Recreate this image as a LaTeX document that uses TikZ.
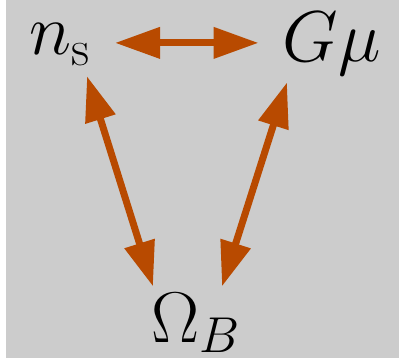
\RequirePackage{fix-cm}
\documentclass[tikz,border=0pt]{standalone}
\usepackage{xcolor}
\usetikzlibrary{arrows.meta}
\definecolor{linkcol}{HTML}{B84A00}
\definecolor{backcol}{HTML}{CCCCCC}
\DeclareMathSizes{36}{36}{25.2}{18}

\begin{document}
\begin{tikzpicture}[x=0.5pt, y=0.5pt, >={Triangle[length=22.5pt,width=15pt]},
  param/.style={inner xsep=12pt, inner ysep=2pt, font=\fontsize{36}{43}\selectfont},
  link/.style={<->, line width=3.5pt, linkcol}]
  % Background
  \useasboundingbox (0,0) rectangle (399,358);
  \fill[backcol] (6,0) rectangle (399,358);
  % Parameters
  \node[param, anchor=base] (ns) at (60,303) {$n_\mathrm{s}$};
  \node[param, anchor=base] (gmu) at (332,296) {$G\mu$};
  \node[param, anchor=base] (om) at (196,16) {$\Omega_B$};
  % Degeneracies
  \draw[link] ([yshift=1pt]ns.east) -- ([yshift=1pt]ns.east -| gmu.west);
  \draw[link] ([shift={(27,-6)}]ns.south) -- ([shift={(-43,2)}]om.north);
  \draw[link] ([shift={(-45,-2)}]gmu.south) -- ([shift={(26,2)}]om.north);
\end{tikzpicture}
\end{document}
